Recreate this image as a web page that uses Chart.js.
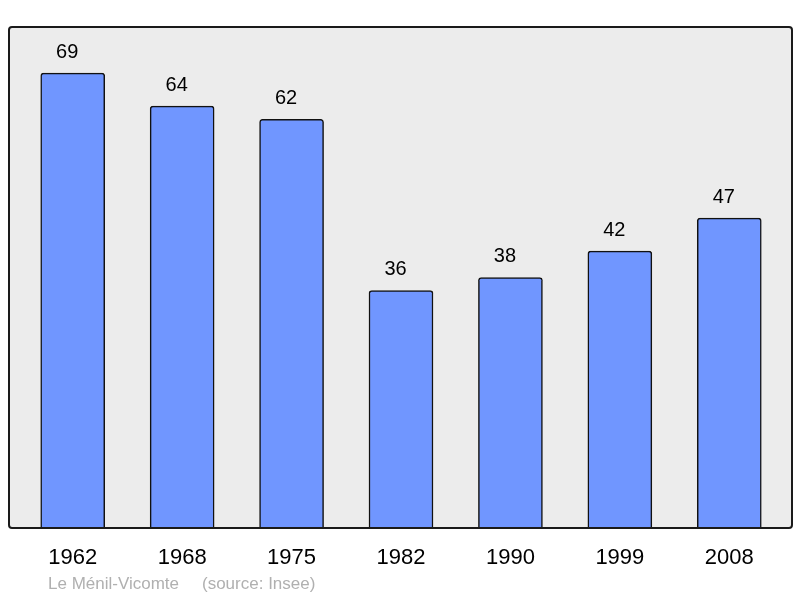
<!DOCTYPE html>
<html><head><meta charset="utf-8">
<script src="https://cdn.jsdelivr.net/npm/chart.js@4"></script>
<style>html,body{margin:0;padding:0;background:#fff}#w{width:800px;height:598px}</style>
</head><body><div id="w"><canvas id="c"></canvas></div>
<script>
const years = ["1962","1968","1975","1982","1990","1999","2008"];
const population = [69,64,62,36,38,42,47];
const footerLeft = "Le Ménil-Vicomte";
const footerRight = "(source: Insee)";

const frame = {
  id:'frame',
  beforeDraw(chart){
    const {ctx, chartArea:a} = chart;
    ctx.save();
    const x=a.left-9, y=a.top, w=(a.right+8)-x, h=a.bottom-a.top;
    ctx.beginPath(); ctx.roundRect(x,y,w,h,3);
    ctx.fillStyle='#ececec'; ctx.fill();
    ctx.restore();
  },
  afterDatasetsDraw(chart){
    const {ctx, chartArea:a} = chart;
    ctx.save();
    const x=a.left-9, y=a.top, w=(a.right+8)-x, h=a.bottom-a.top;
    ctx.beginPath(); ctx.roundRect(x,y,w,h,3);
    ctx.lineWidth=2; ctx.strokeStyle='#1a1a1a'; ctx.stroke();
    const meta = chart.getDatasetMeta(0);
    ctx.font='20px "Liberation Sans", Arial, sans-serif';
    ctx.fillStyle='#000'; ctx.textAlign='center'; ctx.textBaseline='middle';
    meta.data.forEach((b,i)=>{ ctx.fillText(String(population[i]), b.x-5.5, b.y-21); });
    ctx.font='17px "Liberation Sans", Arial, sans-serif';
    ctx.fillStyle='#b0b0b0'; ctx.textAlign='left';
    ctx.fillText(footerLeft, 48, 584);
    ctx.fillText(footerRight, 202, 584);
    ctx.restore();
  }
};

new Chart(document.getElementById('c'), {
  type:'bar',
  data:{labels:years, datasets:[{data:population, backgroundColor:'#7096ff', borderColor:'#111', borderWidth:1.5, borderSkipped:'bottom', borderRadius:{topLeft:3,topRight:3,bottomLeft:0,bottomRight:0}, barThickness:64}]},
  options:{
    responsive:true, maintainAspectRatio:false, animation:false,
    layout:{padding:{left:18,right:16,top:27,bottom:0}},
    plugins:{legend:{display:false}, tooltip:{enabled:false}},
    scales:{
      y:{display:false, min:0, max:76},
      x:{grid:{display:false, drawTicks:false}, border:{display:false},
         ticks:{color:'#000', font:{size:22, family:'"Liberation Sans", Arial, sans-serif'}, padding:17, maxRotation:0},
         afterFit(s){ s.height = 70; }}
    }
  },
  plugins:[frame]
});
</script></body></html>
